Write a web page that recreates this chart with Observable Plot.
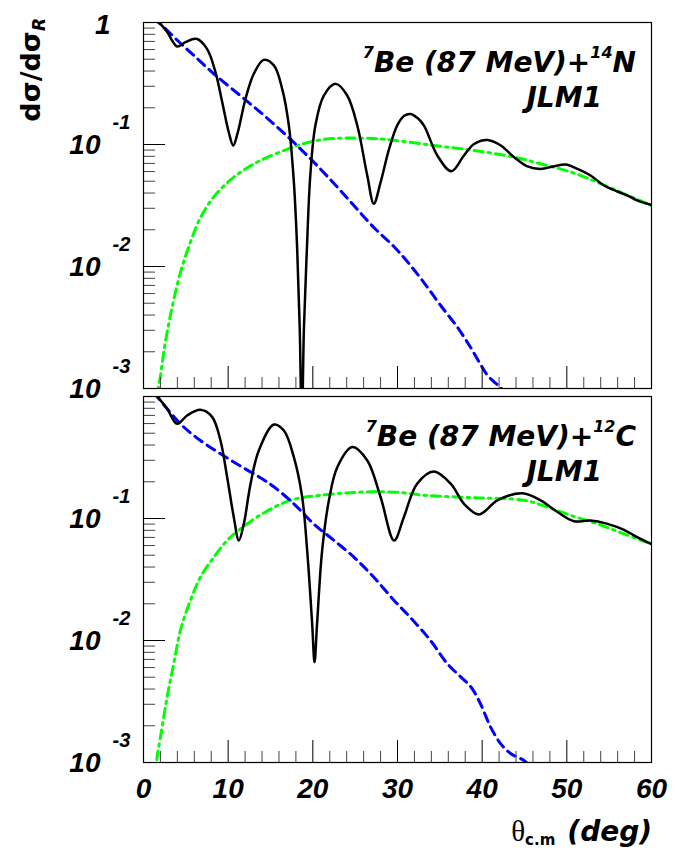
<!DOCTYPE html>
<html><head><meta charset="utf-8">
<script src="https://cdn.jsdelivr.net/npm/d3@7"></script>
<script src="https://cdn.jsdelivr.net/npm/@observablehq/plot@0.6"></script>
<style>
body{margin:0;background:#fff;}
#wrap{position:relative;width:686px;height:852px;overflow:hidden;background:#fff;}
#wrap svg{position:absolute;left:0;overflow:visible;background:transparent;}
</style></head><body><div id="wrap"></div>
<script>
// ---------- 7Be + 14N (top panel) ----------
const n14TotalAngle = [1.2,1.8,2.8,3.4,4.0,4.95,6.25,7.5,8.5,9.3,10.07,10.6,11.14,12.05,13.03,14.2,15.4,16.38,17.17,17.76,18.15,18.45,18.7,18.95,19.3,19.7,20.3,21.3,22.7,24.06,25.25,26.43,27.2,28.0,29.0,30.0,30.8,31.55,32.4,33.13,34.7,36.36,37.85,39.04,40.61,42.2,43.77,45.35,46.9,48.5,49.87,51.25,52.8,54.4,55.96,57.15,58.3,60];
const n14TotalValue = [1.05,1.0,0.834,0.708,0.635,0.690,0.735,0.608,0.392,0.222,0.126,0.0982,0.126,0.237,0.380,0.494,0.445,0.286,0.143,0.0491,0.0140,0.00316,0.0005,0.00316,0.0140,0.0557,0.143,0.252,0.314,0.252,0.143,0.0557,0.0327,0.0489,0.0916,0.145,0.172,0.178,0.164,0.143,0.0813,0.0604,0.0813,0.101,0.109,0.0982,0.0787,0.0661,0.0631,0.0664,0.0686,0.0631,0.0557,0.0461,0.0412,0.0382,0.0348,0.0319];
const n14NearAngle = [1.2,1.8,4.36,5.94,8.3,11.45,14.2,16.97,19.33,21.7,24.46,27.2,29.6,31.15,33.1,35.1,37.1,38.6,39.8,40.6,41.3,41.9,42.6];
const n14NearValue = [1.07,1.0,0.676,0.537,0.380,0.251,0.174,0.117,0.0813,0.0550,0.0339,0.0209,0.0145,0.0110,0.00741,0.00479,0.00316,0.00219,0.00158,0.00129,0.00115,0.00106,0.00095];
const n14FarAngle = [1.5,1.75,2.0,2.4,3.18,4.36,5.54,6.72,8.3,10.27,11.85,13.82,16.57,18.54,21.3,24.06,27.0,29.2,34.3,39.04,43.77,46.9,50.5,53.6,56.8,60];
const n14FarValue = [0.0005,0.001,0.00126,0.002,0.00398,0.00891,0.0158,0.0251,0.0372,0.0513,0.0617,0.0741,0.0891,0.100,0.110,0.113,0.112,0.109,0.0982,0.0893,0.0787,0.0695,0.0593,0.0491,0.0394,0.0316];

// ---------- 7Be + 12C (bottom panel) ----------
const c12TotalAngle = [1.2,1.6,2.79,3.97,5.15,6.72,8.1,9.09,9.88,10.66,11.26,11.85,12.64,13.62,15.4,16.58,17.76,18.74,19.33,19.92,20.2,20.5,21.1,21.9,22.9,24.65,26.43,28.0,29.6,30.76,32.3,34.3,36.3,37.85,39.62,41.8,44.74,46.9,48.9,50.85,52.8,54.8,56.75,58.3,60];
const c12TotalValue = [1.05,1.0,0.792,0.597,0.698,0.778,0.681,0.436,0.218,0.103,0.0661,0.0904,0.192,0.361,0.589,0.526,0.318,0.150,0.0547,0.0137,0.00664,0.0137,0.0547,0.141,0.264,0.385,0.299,0.150,0.0661,0.103,0.192,0.243,0.192,0.132,0.108,0.141,0.161,0.141,0.113,0.0951,0.0964,0.0904,0.0807,0.0703,0.0617];
const c12NearAngle = [1.2,1.6,4.36,6.72,9.1,11.45,13.8,15.4,17.76,20.1,22.5,24.85,27.2,29.6,31.5,33.9,35.9,37.5,38.7,39.8,41.0,42.2,43.4,44.95,45.5];
const c12NearValue = [1.07,1.0,0.597,0.436,0.339,0.269,0.216,0.182,0.132,0.0904,0.0661,0.0482,0.0330,0.0213,0.0155,0.0100,0.00644,0.00501,0.00414,0.00303,0.00195,0.00142,0.00118,0.00104,0.00095];
const c12FarAngle = [1.45,1.6,2.0,2.79,3.57,4.36,5.54,6.72,8.3,9.88,11.45,14.2,17.37,20.9,25.25,30.0,33.1,39.0,44.95,47.7,50.45,53.6,56.75,60];
const c12FarValue = [0.0007,0.0011,0.00161,0.00343,0.00644,0.0121,0.0213,0.0330,0.0482,0.0661,0.0822,0.111,0.141,0.155,0.164,0.164,0.155,0.148,0.141,0.124,0.106,0.0904,0.0748,0.0617];

// ---------- ticks and labels ----------
const xMajorTicks = [0,10,20,30,40,50,60];
const xMinorTicks = [2,4,6,8,12,14,16,18,22,24,26,28,32,34,36,38,42,44,46,48,52,54,56,58];
const yMajorTicks = [0.001,0.01,0.1,1];
const yMinorTicks = [0.001,0.01,0.1].flatMap(d => [2,3,4,5,6,7,8,9].map(m => m*d));
const yDecadeValues = [0.1,0.01,0.001];
const yDecadeExponents = ["-1","-2","-3"];

const rows = (a, v) => a.map((x, i) => ({x, y: v[i]}));
const tickFont = {fontFamily: "Liberation Sans", fontWeight: "bold", fontStyle: "italic", fill: "black"};

function panel({total, near, far, height, marginTop, marginBottom, showOne, showX}) {
  const decades = yDecadeValues.map((v, i) => ({v, e: yDecadeExponents[i]}));
  const marks = [
    Plot.line(far, {x: "x", y: "y", stroke: "#00ff00", strokeWidth: 3, strokeDasharray: "9,5,2.5,5", curve: "catmull-rom", clip: true}),
    Plot.line(near, {x: "x", y: "y", stroke: "#0000ff", strokeWidth: 3, strokeDasharray: "9,6", curve: "catmull-rom", clip: true}),
    Plot.line(total, {x: "x", y: "y", stroke: "black", strokeWidth: 2.5, curve: "catmull-rom", clip: true}),
    Plot.axisX(xMajorTicks, {anchor: "bottom", tickSize: -22, fill: "none", label: null, stroke: "black"}),
    Plot.axisX(xMinorTicks, {anchor: "bottom", tickSize: -11, fill: "none", label: null, stroke: "#444"}),
    Plot.axisY(yMajorTicks, {anchor: "left", tickSize: -22, fill: "none", label: null, stroke: "black"}),
    Plot.axisY(yMinorTicks, {anchor: "left", tickSize: -12, fill: "none", label: null, stroke: "#444"}),
    Plot.frame({stroke: "black", strokeWidth: 1.2}),
    Plot.text(decades, {y: "v", text: () => "10", frameAnchor: "left", textAnchor: "end", lineAnchor: "bottom", dx: -43, dy: 9, fontSize: 28, ...tickFont}),
    Plot.text(decades, {y: "v", text: "e", frameAnchor: "left", textAnchor: "start", lineAnchor: "bottom", dx: -31, dy: -16, fontSize: 20, ...tickFont})
  ];
  if (showOne) marks.push(Plot.text([1], {y: d => d, text: () => "1", frameAnchor: "left", textAnchor: "end", lineAnchor: "bottom", dx: -33, dy: 11, fontSize: 28, ...tickFont}));
  if (showX) marks.push(Plot.text(xMajorTicks, {x: d => d, text: d => String(d), frameAnchor: "bottom", lineAnchor: "bottom", dy: 35, fontSize: 28, ...tickFont}));
  return Plot.plot({
    width: 686, height, marginLeft: 143, marginRight: 35, marginTop, marginBottom,
    x: {domain: [0, 60]},
    y: {type: "log", domain: [1e-3, 1]},
    style: {background: "transparent", overflow: "visible"},
    marks
  });
}

function addPanelLabel(svg, marginTop, target) {
  const t = d3.select(svg).append("text")
    .attr("x", 636).attr("y", marginTop + 50).attr("text-anchor", "end")
    .attr("font-family", "DejaVu Sans").attr("font-weight", "bold").attr("font-style", "italic")
    .attr("font-size", 28).attr("fill", "black");
  t.append("tspan").attr("font-size", 16).attr("dy", -14).text("7");
  t.append("tspan").attr("font-size", 28).attr("dy", 14).text("Be (87 MeV)+");
  t.append("tspan").attr("font-size", 16).attr("dy", -14).text(target[0]);
  t.append("tspan").attr("font-size", 28).attr("dy", 14).text(target[1]);
  d3.select(svg).append("text")
    .attr("x", 602).attr("y", marginTop + 85).attr("text-anchor", "end")
    .attr("font-family", "DejaVu Sans").attr("font-weight", "bold").attr("font-style", "italic")
    .attr("font-size", 28).attr("fill", "black").text("JLM1");
}

const wrap = document.getElementById("wrap");

const topPlot = panel({total: rows(n14TotalAngle, n14TotalValue), near: rows(n14NearAngle, n14NearValue), far: rows(n14FarAngle, n14FarValue), height: 390, marginTop: 22, marginBottom: 2, showOne: true, showX: false});
topPlot.style.top = "0px";
addPanelLabel(topPlot, 22, ["14", "N"]);
const yt = d3.select(topPlot).append("text")
  .attr("transform", "translate(40,18) rotate(-90)").attr("text-anchor", "end")
  .attr("font-family", "DejaVu Sans").attr("font-weight", "bold").attr("font-size", 27).attr("fill", "black");
yt.append("tspan").text("dσ/dσ");
yt.append("tspan").attr("font-size", 17).attr("font-style", "italic").attr("dy", 5).text("R");
wrap.appendChild(topPlot);

const botPlot = panel({total: rows(c12TotalAngle, c12TotalValue), near: rows(c12NearAngle, c12NearValue), far: rows(c12FarAngle, c12FarValue), height: 462, marginTop: 6, marginBottom: 90, showOne: false, showX: true});
botPlot.style.top = "390px";
addPanelLabel(botPlot, 6, ["12", "C"]);
const xt = d3.select(botPlot).append("text")
  .attr("x", 652).attr("y", 451).attr("text-anchor", "end").attr("fill", "black").attr("font-size", 28);
xt.append("tspan").attr("font-family", "Liberation Serif").attr("font-size", 29).text("θ");
xt.append("tspan").attr("font-family", "DejaVu Sans").attr("font-weight", "bold").attr("font-size", 15).attr("dy", 4).text("c.m");
xt.append("tspan").attr("font-family", "DejaVu Sans").attr("font-weight", "bold").attr("font-style", "italic").attr("font-size", 28).attr("dy", -4).attr("dx", 12).text("(deg)");
wrap.appendChild(botPlot);
</script></body></html>
